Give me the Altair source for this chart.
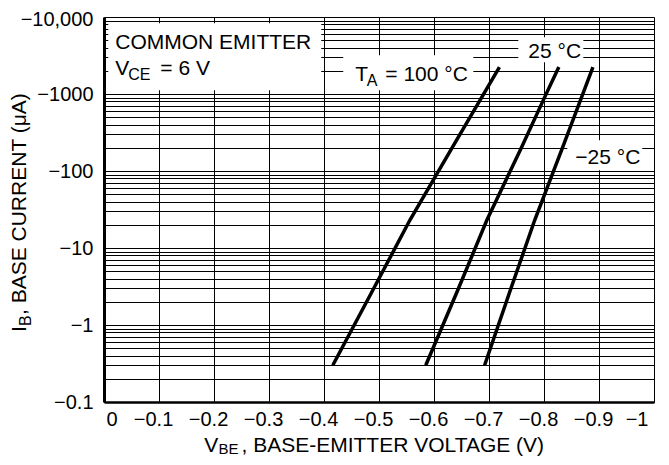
import altair as alt
import pandas as pd

# ---- data: V_BE (V) and I_B (uA) ----
V_T100 = [-0.416, -0.486, -0.556, -0.632, -0.719]
I_T100 = [-0.3, -2.6, -22.9, -195, -2240]
V_T25 = [-0.585, -0.641, -0.696, -0.758, -0.800, -0.827]
I_T25 = [-0.3, -2.6, -22.9, -195, -871, -2240]
V_TM25 = [-0.692, -0.737, -0.783, -0.833, -0.889]
I_TM25 = [-0.3, -2.6, -22.9, -195, -2240]
SERIES = ["100 °C", "25 °C", "−25 °C"]

X_TICKS = [0, -0.1, -0.2, -0.3, -0.4, -0.5, -0.6, -0.7, -0.8, -0.9, -1]
DECADES = [0.1, 1, 10, 100, 1000]
Y_GRID = [m * d for d in DECADES for m in range(1, 10)] + [10000]

FONT = "Liberation Sans"

rows = []
for name, vs, iss in zip(SERIES, [V_T100, V_T25, V_TM25], [I_T100, I_T25, I_TM25]):
    for v, i in zip(vs, iss):
        rows.append({"series": name, "V": v, "Imag": -i})
curves = pd.DataFrame(rows)

# white label backgrounds (data units: V from/to, |I| from/to)
boxes = pd.DataFrame({
    "v1": [-0.0078, -0.435, -0.7533, -0.8424],
    "v2": [-0.395, -0.6715, -0.8715, -0.9787],
    "i1": [1117, 1117, 2580, 102],
    "i2": [8280, 3184, 5450, 250],
})

# horizontal text pieces (subscripts are separate smaller pieces)
texts = pd.DataFrame({
    "text": ["COMMON EMITTER", "V", "CE", "= 6 V",
             "T", "A", "= 100 °C", "25 °C", "−25 °C",
             "V", "BE", ", BASE-EMITTER VOLTAGE (V)"],
    "V": [-0.0205, -0.0205, -0.0442, -0.1024,
          -0.4569, -0.4775, -0.5115, -0.7715, -0.8569,
          -0.1824, -0.2082, -0.2500],
    "I": [3887, 1750, 1507, 1750,
          1462, 1259, 1462, 2970, 125,
          0.02242, 0.02081, 0.02242],
    "size": [21, 21, 16, 21, 21, 16, 21, 21, 21, 21, 15, 21],
})

# rotated y-axis title pieces
vtexts = pd.DataFrame({
    "text": ["I", "B", ", BASE CURRENT (μA)"],
    "V": [0.1413, 0.1322, 0.1413],
    "I": [0.8111, 0.967, 1.349],
    "size": [21, 16, 21],
})

xscale = alt.Scale(domain=[-1, 0], reverse=True, nice=False, zero=False)
yscale = alt.Scale(type="log", domain=[0.1, 10000], nice=False)

label_expr = ("abs(log(datum.value)/LN10 - round(log(datum.value)/LN10)) < 0.001 ? "
              "(datum.value >= 10000 ? '−10,000' : '−' + format(datum.value, '~g')) : ''")

xaxis = alt.Axis(values=X_TICKS, format="~g", grid=True, ticks=False, tickSize=0,
                 labelPadding=7, labelFontSize=20, labelFont=FONT, labelColor="black",
                 domainColor="black", domainWidth=2.5, gridColor="black", gridWidth=1,
                 gridOpacity=1, title=None, labelOffset={"expr": "datum.value == 0 ? 2 : -6"})
yaxis = alt.Axis(values=Y_GRID, labelExpr=label_expr, grid=True, ticks=False, tickSize=0,
                 labelPadding=11, labelFontSize=20, labelFont=FONT, labelColor="black",
                 domainColor="black", domainWidth=3, gridColor="black", gridWidth=1,
                 gridOpacity=1, title=None, labelOverlap=False,
                 labelOffset={"expr": "datum.value >= 10000 ? 2 : 0"})

box_layer = alt.Chart(boxes).mark_rect(fill="white", strokeWidth=0).encode(
    x=alt.X("v1:Q", scale=xscale, axis=xaxis),
    x2="v2:Q",
    y=alt.Y("i1:Q", scale=yscale, axis=yaxis),
    y2="i2:Q",
)

line_layer = alt.Chart(curves).mark_line(color="black", strokeWidth=3.5, clip=False).encode(
    x=alt.X("V:Q", scale=xscale),
    y=alt.Y("Imag:Q", scale=yscale),
    detail="series:N",
)

text_layer = alt.Chart(texts).mark_text(align="left", baseline="alphabetic", font=FONT,
                                        color="black").encode(
    x=alt.X("V:Q", scale=xscale),
    y=alt.Y("I:Q", scale=yscale),
    text="text:N",
    size=alt.Size("size:Q", scale=None, legend=None),
)

vtext_layer = alt.Chart(vtexts).mark_text(align="left", baseline="alphabetic", font=FONT,
                                          color="black", angle=270).encode(
    x=alt.X("V:Q", scale=xscale),
    y=alt.Y("I:Q", scale=yscale),
    text="text:N",
    size=alt.Size("size:Q", scale=None, legend=None),
)

chart = alt.layer(box_layer, line_layer, text_layer, vtext_layer).properties(
    width=550, height=385,
    padding={"left": 96, "top": 9, "right": 7, "bottom": 55},
    autosize=alt.AutoSizeParams(type="none"),
).configure_view(stroke="black", strokeWidth=1.5).configure(background="white")

chart.save("out.html", embed_options={"renderer": "svg", "actions": False})
